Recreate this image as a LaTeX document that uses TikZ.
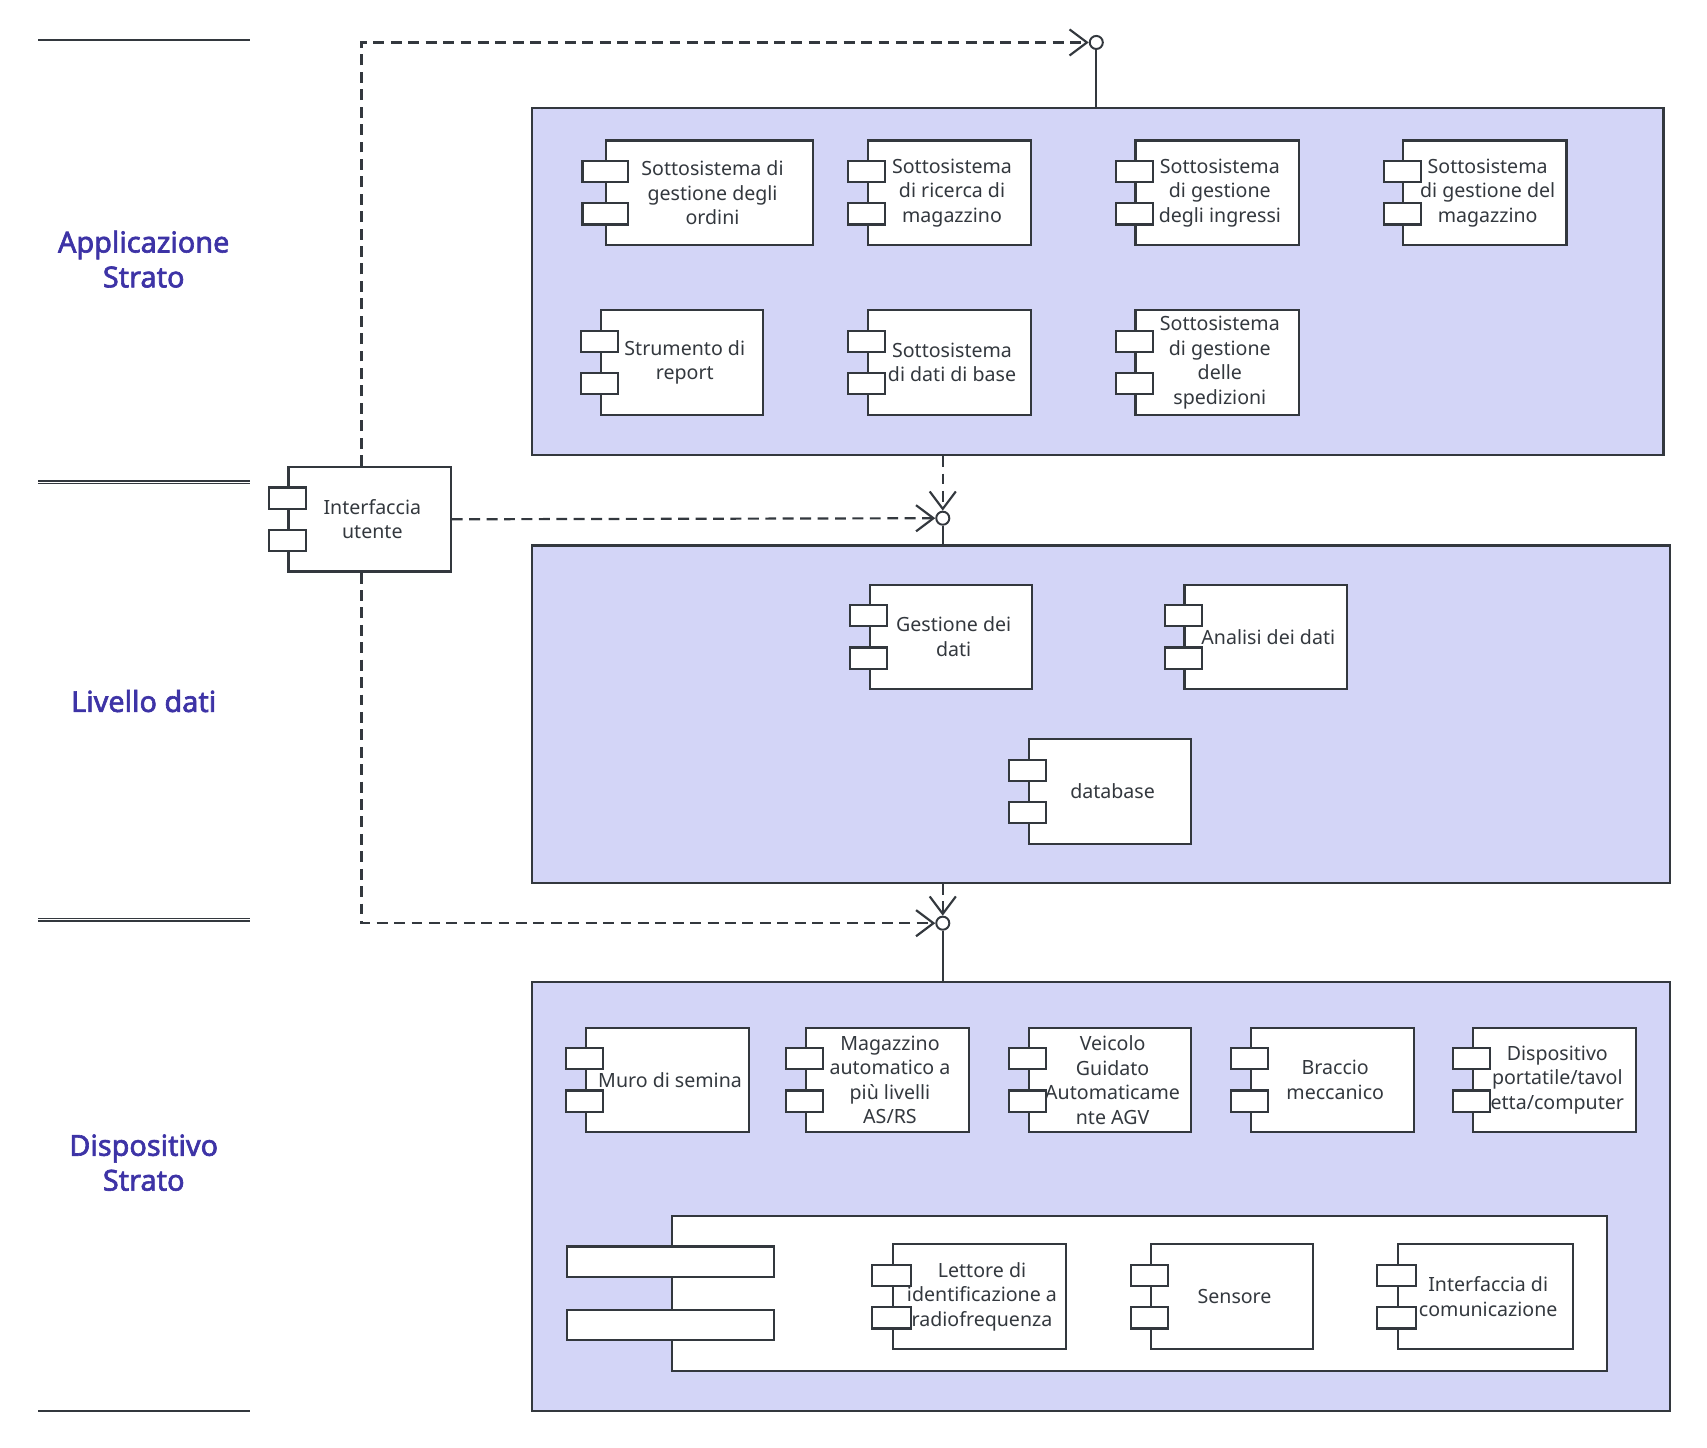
\documentclass[tikz,border=0pt]{standalone}
\usepackage{fontspec}
\setmainfont{Noto Sans}
\newfontfamily\lvlfont{Noto Sans}[FakeBold=2.2]
\usepackage{tikz}
\usetikzlibrary{arrows.meta, calc, positioning}
\definecolor{ln}{HTML}{33383E}
\definecolor{lay}{HTML}{D3D5F7}
\definecolor{lab}{HTML}{3D33A6}
\tikzset{layer/.style={draw=ln,fill=lay,line width=2pt,inner sep=0pt}}
\tikzset{comp/.style={draw=ln,fill=white,line width=2pt,inner sep=0pt,minimum height=96pt}}
\tikzset{tab/.style={draw=ln,fill=white,line width=2pt,inner sep=0pt,minimum height=19.5pt}}
\tikzset{ctext/.style={text=ln,align=center,inner sep=0pt,font=\fontsize{18}{22.5}\selectfont}}
\tikzset{lvl/.style={text=lab,align=center,font=\lvlfont\fontsize{26.5}{32}\selectfont}}
\tikzset{dep/.style={draw=ln,line width=2pt,dash pattern=on 10pt off 6pt,-{Straight Barb[length=16pt,width=24pt]}}}
\tikzset{itf/.style={circle,draw=ln,fill=white,line width=1.8pt,minimum size=12pt,inner sep=0pt}}
% component symbol: name, position, width, tab width, text
\newcommand{\comp}[5]{%
  \node [comp,minimum width=#3pt] (#1) at (#2) {};
  \node [tab,minimum width=#4pt] (#1-a) at ([yshift=19.5pt]#1.west) {};
  \node [tab,minimum width=#4pt] (#1-b) at ([yshift=-19.5pt]#1.west) {};
  \node [ctext] (#1-t) at ([xshift=2.5pt]#1.center) {#5};
}

\begin{document}
\begin{tikzpicture}[x=1pt,y=-1pt]
\useasboundingbox (0,0) rectangle (1568,1330);

% separators on the left
\draw [ln,line width=2pt] (35,37) -- (230,37);
\draw [ln,line width=1.2pt,double,double distance=1pt] (35,443) -- (230,443);
\draw [ln,line width=1.2pt,double,double distance=1pt] (35,845) -- (230,845);
\draw [ln,line width=2pt] (35,1296) -- (230,1296);

\node [lvl] (l1) at (132,238) {Applicazione\\Strato};
\node [lvl] (l2) at (132,644) {Livello dati};
\node [lvl] (l3) at (132,1068) {Dispositivo\\Strato};

% layers
\node [layer,minimum width=1039pt,minimum height=319pt] (app) at (1008.5,258.5) {};
\node [layer,minimum width=1045pt,minimum height=310pt] (dat) at (1011.5,656) {};
\node [layer,minimum width=1045pt,minimum height=394pt] (dev) at (1011.5,1099) {};

% application layer
\comp{c1}{652,177}{190}{42}{Sottosistema di\\gestione degli\\ordini}
\comp{c2}{872,177}{150}{34}{Sottosistema\\di ricerca di\\magazzino}
\comp{c3}{1118,177}{150}{34}{Sottosistema\\di gestione\\degli ingressi}
\comp{c4}{1364,177}{150}{34}{Sottosistema\\di gestione del\\magazzino}
\comp{c5}{626.5,333}{149}{34}{Strumento di\\report}
\comp{c6}{872,333}{150}{34}{Sottosistema\\di dati di base}
\comp{c7}{1118,333}{150}{34}{Sottosistema\\di gestione\\delle\\spedizioni}

% user interface
\comp{ui}{339.5,477}{149}{34}{Interfaccia\\utente}

% data layer
\comp{d1}{873.5,585}{149}{34}{Gestione dei\\dati}
\comp{d2}{1162.5,585}{149}{34}{Analisi dei dati}
\comp{d3}{1019.5,727}{149}{34}{database}

% device layer
\comp{e1}{613,992}{150}{34}{Muro di semina}
\comp{e2}{815,992}{150}{34}{Magazzino\\automatico a\\più livelli\\AS/RS}
\comp{e3}{1019.5,992}{149}{34}{Veicolo\\Guidato\\Automaticame\\nte AGV}
\comp{e4}{1224,992}{150}{34}{Braccio\\meccanico}
\comp{e5}{1428,992}{150}{34}{Dispositivo\\portatile/tavol\\etta/computer}

\node [comp,minimum width=859pt,minimum height=142pt] (e6) at (1046.5,1188) {};
\node [tab,minimum width=190pt,minimum height=28pt] (e6-a) at ([yshift=29pt]e6.west) {};
\node [tab,minimum width=190pt,minimum height=28pt] (e6-b) at ([yshift=-29pt]e6.west) {};

\comp{f1}{899.5,1191}{159}{36}{Lettore di\\identificazione a\\radiofrequenza}
\comp{f2}{1131.5,1191}{149}{34}{Sensore}
\comp{f3}{1364.5,1191}{161}{36}{Interfaccia di\\comunicazione}

% interfaces
\node [itf] (ci1) at (1007,39) {};
\node [itf] (ci2) at (866,476) {};
\node [itf] (ci3) at (866,848) {};

\draw [ln,line width=2pt] (ci1) -- (ci1 |- app.north);
\draw [ln,line width=2pt] (ci2) -- (ci2 |- dat.north);
\draw [ln,line width=2pt] (ci3) -- (ci3 |- dev.north);

\draw [dep] ([xshift=-7.5pt]ui.north) |- (ci1);
\draw [dep] (ui.east) -- (ci2);
\draw [dep] (app.south -| ci2) -- (ci2);
\draw [dep] ([xshift=-7.5pt]ui.south) |- (ci3);
\draw [dep] (dat.south -| ci3) -- (ci3);
\end{tikzpicture}
\end{document}
